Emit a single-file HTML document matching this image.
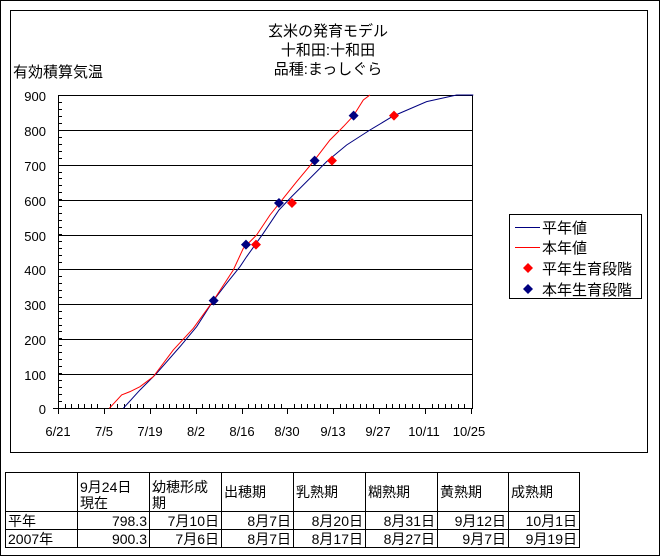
<!DOCTYPE html>
<html><head><meta charset="utf-8"><style>
body{margin:0;width:660px;height:556px;background:#fff;overflow:hidden;position:relative;font-family:"Liberation Sans","Noto Sans CJK JP",sans-serif;}
.t{position:absolute;white-space:nowrap;color:#000;}
table{position:absolute;left:5px;top:472px;border-collapse:collapse;font-size:14px;}
td{border:1px solid #000;padding:0 2px;height:17px;line-height:16px;vertical-align:bottom;}
td.r{text-align:right;}
</style></head><body>
<div style="position:absolute;left:0;top:0;width:658px;height:554px;border:1px solid #000;"></div>
<div style="position:absolute;left:10px;top:10px;width:636px;height:441px;border:1px solid #000;"></div>
<div class="t" style="left:228px;top:22px;width:200px;text-align:center;font-size:15px;line-height:19px;">玄米の発育モデル<br>十和田:十和田<br>品種:まっしぐら</div>
<div class="t" style="left:13px;top:61px;font-size:15px;">有効積算気温</div>
<svg style="position:absolute;left:0;top:0" width="660" height="556">
<g stroke="#000" stroke-width="1" shape-rendering="crispEdges">
<line x1="58" y1="95.5" x2="473" y2="95.5"/>
<line x1="58" y1="130.5" x2="473" y2="130.5"/>
<line x1="58" y1="165.5" x2="473" y2="165.5"/>
<line x1="58" y1="200.5" x2="473" y2="200.5"/>
<line x1="58" y1="235.5" x2="473" y2="235.5"/>
<line x1="58" y1="269.5" x2="473" y2="269.5"/>
<line x1="58" y1="304.5" x2="473" y2="304.5"/>
<line x1="58" y1="339.5" x2="473" y2="339.5"/>
<line x1="58" y1="374.5" x2="473" y2="374.5"/>
<line x1="53" y1="408.5" x2="473" y2="408.5"/>
<line x1="58.5" y1="95" x2="58.5" y2="414"/>
<line x1="472.5" y1="95" x2="472.5" y2="408"/>
</g>
<g id="ticks" stroke="#000" stroke-width="1" shape-rendering="crispEdges"></g>
<g fill="none" stroke-width="1" transform="translate(40,80) scale(0.3333)">
<polyline vector-effect="non-scaling-stroke" stroke="#000080" points="250,985 300,930 350,880 420,800 470,740 520,662 560,610 600,560 620,530 670,460 717,390 755,350 800,305 860,245 920,195 990,150 1060,108 1160,65 1250,45 1300,45"/>
<polyline vector-effect="non-scaling-stroke" stroke="#ff0000" points="208,985 245,945 270,935 300,920 340,890 400,810 460,745 520,662 580,570 610,505 650,465 690,405 730,355 770,305 820,245 870,180 910,140 940,108 970,60 990,45"/>
</g>
<g transform="translate(40,80) scale(0.3333)">
<g fill="#000080">
<path d="M521,647 l15,15 -15,15 -15,-15z"/><path d="M618,479 l15,15 -15,15 -15,-15z"/><path d="M717,354 l15,15 -15,15 -15,-15z"/><path d="M824,227 l15,15 -15,15 -15,-15z"/><path d="M941,92 l15,15 -15,15 -15,-15z"/>
</g>
<g fill="#ff0000">
<path d="M648,479 l15,15 -15,15 -15,-15z"/><path d="M756,354 l15,15 -15,15 -15,-15z"/><path d="M876,227 l15,15 -15,15 -15,-15z"/><path d="M1062,92 l15,15 -15,15 -15,-15z"/>
</g>
</g>
<g font-size="13" font-family="Liberation Sans, sans-serif" text-anchor="end">
<text x="46" y="101">900</text><text x="46" y="136">800</text><text x="46" y="171">700</text><text x="46" y="206">600</text><text x="46" y="241">500</text><text x="46" y="275">400</text><text x="46" y="310">300</text><text x="46" y="345">200</text><text x="46" y="380">100</text><text x="46" y="414">0</text>
</g>
<g font-size="13" font-family="Liberation Sans, sans-serif" text-anchor="middle">
<text x="58" y="436">6/21</text><text x="104" y="436">7/5</text><text x="150" y="436">7/19</text><text x="196" y="436">8/2</text><text x="242" y="436">8/16</text><text x="287" y="436">8/30</text><text x="333" y="436">9/13</text><text x="378" y="436">9/27</text><text x="424" y="436">10/11</text><text x="469" y="436">10/25</text>
</g>
<rect x="509.5" y="214.5" width="132" height="84" fill="#fff" stroke="#000"/>
<rect x="515" y="227" width="25" height="1" fill="#000080"/>
<rect x="515" y="247" width="25" height="1" fill="#ff0000"/>
<path d="M528,263 l5,5 -5,5 -5,-5z" fill="#ff0000"/>
<path d="M528,284 l5,5 -5,5 -5,-5z" fill="#000080"/>
<g font-size="15" font-family="Liberation Sans, Noto Sans CJK JP, sans-serif">
<text x="542" y="233">平年値</text><text x="542" y="253">本年値</text><text x="542" y="274">平年生育段階</text><text x="542" y="295">本年生育段階</text>
</g>
</svg>
<script>
var g=document.getElementById('ticks'),s='';
for(var d=0;d<=126;d+=2){var x=Math.round(58+d*413/126)+0.5;s+='<line x1="'+x+'" y1="408" x2="'+x+'" y2="'+(d%14==0?414:404)+'"/>';}
for(var v=0;v<=900;v+=20){var y=Math.round(408-v*313/900)+0.5;s+='<line x1="58" y1="'+y+'" x2="62" y2="'+y+'"/>';}
g.innerHTML=s;
</script>
<table>
<tr style="height:39px"><td style="width:67px"></td><td style="width:67px">9月24日<br>現在</td><td style="width:67px">幼穂形成<br>期</td><td style="width:67px;vertical-align:middle">出穂期</td><td style="width:67px;vertical-align:middle">乳熟期</td><td style="width:67px;vertical-align:middle">糊熟期</td><td style="width:66px;vertical-align:middle">黄熟期</td><td style="width:66px;vertical-align:middle">成熟期</td></tr>
<tr><td>平年</td><td class="r">798.3</td><td class="r">7月10日</td><td class="r">8月7日</td><td class="r">8月20日</td><td class="r">8月31日</td><td class="r">9月12日</td><td class="r">10月1日</td></tr>
<tr><td>2007年</td><td class="r">900.3</td><td class="r">7月6日</td><td class="r">8月7日</td><td class="r">8月17日</td><td class="r">8月27日</td><td class="r">9月7日</td><td class="r">9月19日</td></tr>
</table>
</body></html>
